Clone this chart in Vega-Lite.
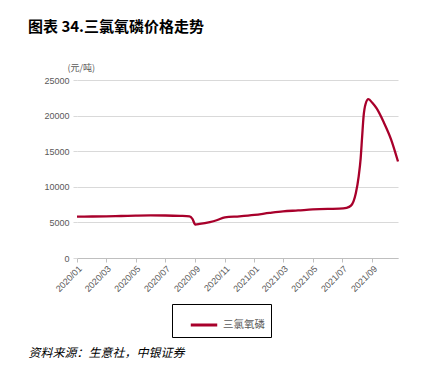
{
  "$schema": "https://vega.github.io/schema/vega-lite/v6.json",
  "width": 321,
  "height": 178,
  "autosize": {"type": "none"},
  "padding": {"left": 77, "top": 80, "right": 33, "bottom": 121},
  "background": "white",
  "config": {"view": {"stroke": null}},
  "title": {
    "text": "图表 34.三氯氧磷价格走势",
    "anchor": "start",
    "frame": "group",
    "dx": -49,
    "offset": 28,
    "font": "Noto Sans CJK SC",
    "fontSize": 15,
    "fontWeight": "bold",
    "color": "#000000"
  },
  "data": {
    "values": [
      {"date": "2020-01-01", "price": 5800},
      {"date": "2020-02-01", "price": 5830},
      {"date": "2020-03-01", "price": 5860},
      {"date": "2020-04-01", "price": 5900},
      {"date": "2020-05-01", "price": 5950},
      {"date": "2020-06-01", "price": 5980},
      {"date": "2020-07-01", "price": 5970},
      {"date": "2020-08-01", "price": 5920},
      {"date": "2020-08-20", "price": 5850},
      {"date": "2020-08-26", "price": 5500},
      {"date": "2020-09-01", "price": 4700},
      {"date": "2020-09-10", "price": 4780},
      {"date": "2020-10-01", "price": 5050},
      {"date": "2020-10-15", "price": 5300},
      {"date": "2020-11-01", "price": 5700},
      {"date": "2020-12-01", "price": 5850},
      {"date": "2021-01-01", "price": 6050},
      {"date": "2021-02-01", "price": 6330},
      {"date": "2021-03-01", "price": 6550},
      {"date": "2021-04-01", "price": 6680},
      {"date": "2021-05-01", "price": 6820},
      {"date": "2021-06-01", "price": 6900},
      {"date": "2021-06-25", "price": 6930},
      {"date": "2021-07-10", "price": 7050},
      {"date": "2021-07-19", "price": 7350},
      {"date": "2021-07-29", "price": 9100},
      {"date": "2021-08-04", "price": 11500},
      {"date": "2021-08-08", "price": 14000},
      {"date": "2021-08-11", "price": 17000},
      {"date": "2021-08-14", "price": 19900},
      {"date": "2021-08-18", "price": 21600},
      {"date": "2021-08-24", "price": 22300},
      {"date": "2021-09-01", "price": 21800},
      {"date": "2021-09-10", "price": 21000},
      {"date": "2021-09-25", "price": 19000},
      {"date": "2021-10-10", "price": 16600},
      {"date": "2021-10-24", "price": 13550}
    ],
    "format": {"parse": {"date": "date:'%Y-%m-%d'"}}
  },
  "mark": {"type": "line", "interpolate": "monotone", "strokeWidth": 2.3},
  "encoding": {
    "x": {
      "field": "date",
      "type": "temporal",
      "scale": {"domain": [{"year": 2020, "month": 1, "date": 1}, {"year": 2021, "month": 10, "date": 24}]},
      "axis": {
        "values": [
          {"year": 2020, "month": 1, "date": 1},
          {"year": 2020, "month": 3, "date": 1},
          {"year": 2020, "month": 5, "date": 1},
          {"year": 2020, "month": 7, "date": 1},
          {"year": 2020, "month": 9, "date": 1},
          {"year": 2020, "month": 11, "date": 1},
          {"year": 2021, "month": 1, "date": 1},
          {"year": 2021, "month": 3, "date": 1},
          {"year": 2021, "month": 5, "date": 1},
          {"year": 2021, "month": 7, "date": 1},
          {"year": 2021, "month": 9, "date": 1}
        ],
        "format": "%Y/%m",
        "labelAngle": -45,
        "labelOverlap": false,
        "labelFlush": false,
        "labelBound": false,
        "labelFont": "Liberation Sans",
        "labelFontSize": 9,
        "labelColor": "#595959",
        "grid": false,
        "domainColor": "#BFBFBF",
        "tickColor": "#BFBFBF",
        "tickSize": 4,
        "title": "资料来源：生意社，中银证券",
        "titleX": -49,
        "titleY": 94,
        "titleAlign": "left",
        "titleBaseline": "middle",
        "titleFont": "Noto Sans CJK SC",
        "titleFontStyle": "italic",
        "titleFontWeight": "normal",
        "titleFontSize": 12,
        "titleColor": "#000000"
      }
    },
    "y": {
      "field": "price",
      "type": "quantitative",
      "scale": {"domain": [0, 25000]},
      "axis": {
        "values": [0, 5000, 10000, 15000, 20000, 25000],
        "format": "d",
        "grid": true,
        "gridColor": "#D9D9D9",
        "domain": false,
        "tickColor": "#D9D9D9",
        "tickSize": 4,
        "labelPadding": 4,
        "labelFont": "Liberation Sans",
        "labelFontSize": 9,
        "labelColor": "#595959",
        "title": "(元/吨)",
        "titleAngle": 0,
        "titleX": -10,
        "titleY": -13,
        "titleAlign": "left",
        "titleBaseline": "middle",
        "titleFont": "Noto Sans CJK SC",
        "titleFontSize": 9,
        "titleFontWeight": "normal",
        "titleColor": "#595959"
      }
    },
    "color": {
      "datum": "三氯氧磷",
      "scale": {"range": ["#A8002B"]},
      "legend": {
        "title": null,
        "orient": "none",
        "legendX": 95,
        "legendY": 224,
        "strokeColor": "#000000",
        "padding": 6,
        "symbolType": "stroke",
        "symbolStrokeWidth": 3,
        "symbolSize": 700,
        "symbolOffset": 11,
        "labelFont": "Noto Sans CJK SC",
        "labelFontSize": 10.5,
        "labelColor": "#595959"
      }
    }
  }
}
